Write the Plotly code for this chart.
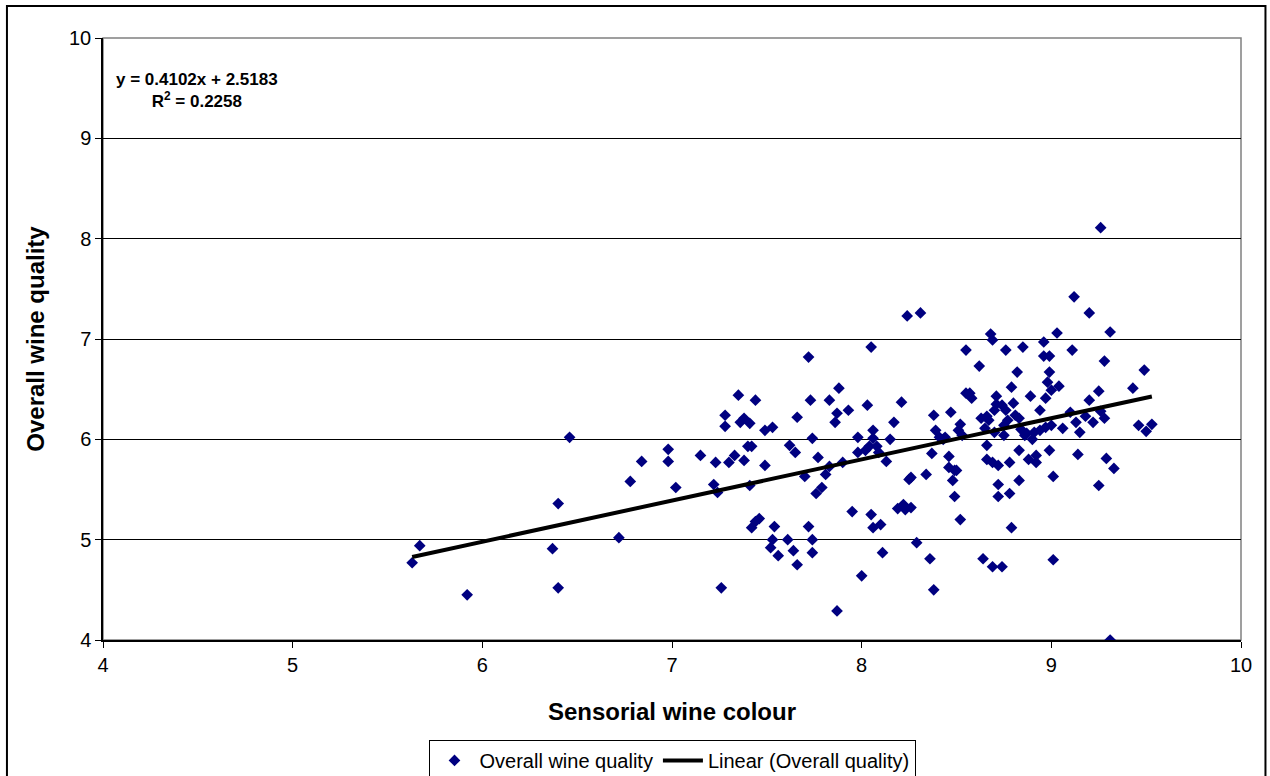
import plotly.graph_objects as go

colour = [5.63, 5.67, 5.92, 6.37, 6.40, 6.40, 6.46, 6.72, 6.78, 6.84, 6.98, 6.98, 7.02, 7.15, 7.22, 7.23,
          7.24, 7.26, 7.28, 7.28, 7.30, 7.33, 7.35, 7.36, 7.38, 7.38, 7.41, 7.41, 7.42, 7.42, 7.44, 7.46,
          7.49, 7.49, 7.44, 7.52, 7.53, 7.54, 7.56, 7.53, 7.40, 7.61, 7.64, 7.66, 7.62, 7.65, 7.66, 7.70,
          7.72, 7.72, 7.73, 7.74, 7.74, 7.74, 7.76, 7.77, 7.79, 7.81, 7.83, 7.83, 7.86, 7.87, 7.88, 7.87,
          7.90, 7.93, 7.95, 7.98, 8.00, 7.98, 8.03, 8.02, 8.04, 8.05, 8.06, 8.06, 8.05, 8.06, 8.08, 8.09,
          8.10, 8.11, 8.13, 8.15, 8.17, 8.19, 8.21, 8.22, 8.23, 8.24, 8.25, 8.26, 8.26, 8.29, 8.31, 8.34,
          8.36, 8.37, 8.38, 8.38, 8.39, 8.41, 8.43, 8.44, 8.46, 8.46, 8.47, 8.48, 8.49, 8.49, 8.50, 8.51,
          8.52, 8.53, 8.52, 8.55, 8.55, 8.57, 8.58, 8.62, 8.63, 8.64, 8.65, 8.66, 8.66, 8.66, 8.67, 8.68,
          8.69, 8.69, 8.70, 8.70, 8.71, 8.71, 8.69, 8.74, 8.72, 8.72, 8.72, 8.74, 8.75, 8.75, 8.76, 8.76,
          8.77, 8.78, 8.79, 8.78, 8.79, 8.80, 8.81, 8.82, 8.83, 8.83, 8.83, 8.84, 8.85, 8.86, 8.87, 8.88,
          8.89, 8.90, 8.91, 8.92, 8.92, 8.94, 8.94, 8.96, 8.96, 8.97, 8.97, 8.98, 8.99, 8.99, 8.99, 9.00,
          9.00, 9.01, 9.01, 9.03, 9.04, 9.06, 9.10, 9.11, 9.12, 9.13, 9.15, 9.14, 9.18, 9.20, 9.20, 9.22,
          9.26, 9.25, 9.25, 9.26, 9.28, 9.28, 9.29, 9.31, 9.31, 9.33, 9.43, 9.46, 9.49, 9.50, 9.53]
quality = [4.77, 4.94, 4.45, 4.91, 5.36, 4.52, 6.02, 5.02, 5.58, 5.78, 5.90, 5.78, 5.52, 5.84, 5.55, 5.77,
           5.47, 4.52, 6.24, 6.13, 5.77, 5.84, 6.44, 6.17, 6.21, 5.79, 6.16, 5.54, 5.93, 5.12, 6.39, 5.21,
           5.74, 6.09, 5.18, 4.92, 5.00, 5.13, 4.84, 6.12, 5.93, 5.00, 4.89, 4.75, 5.94, 5.87, 6.22, 5.63,
           6.82, 5.13, 6.39, 6.01, 5.00, 4.87, 5.46, 5.82, 5.52, 5.65, 5.73, 6.39, 6.17, 6.26, 6.51, 4.29,
           5.77, 6.29, 5.28, 6.02, 4.64, 5.87, 6.34, 5.89, 5.93, 6.92, 6.09, 6.01, 5.25, 5.12, 5.93, 5.87,
           5.15, 4.87, 5.78, 6.00, 6.17, 5.31, 6.37, 5.35, 5.30, 7.23, 5.60, 5.32, 5.62, 4.97, 7.26, 5.65,
           4.81, 5.86, 4.50, 6.24, 6.09, 6.02, 6.00, 6.02, 5.72, 5.83, 6.27, 5.59, 5.69, 5.43, 5.69, 6.09,
           6.15, 6.04, 5.20, 6.89, 6.46, 6.46, 6.41, 6.73, 6.21, 4.81, 6.11, 5.94, 5.80, 6.23, 6.19, 7.05,
           6.99, 5.77, 6.07, 6.29, 6.43, 6.35, 4.73, 4.73, 5.74, 5.43, 5.55, 6.34, 6.14, 6.04, 6.29, 6.89,
           6.19, 5.46, 5.12, 5.77, 6.52, 6.36, 6.24, 6.67, 5.89, 6.21, 5.59, 6.10, 6.92, 6.04, 6.06, 5.80,
           6.43, 6.00, 6.07, 5.84, 5.77, 6.29, 6.09, 6.97, 6.83, 6.41, 6.12, 6.57, 6.83, 6.67, 5.89, 6.49,
           6.14, 5.63, 4.80, 7.06, 6.53, 6.11, 6.27, 6.89, 7.42, 6.17, 6.07, 5.85, 6.23, 7.26, 6.39, 6.17,
           8.11, 5.54, 6.48, 6.28, 6.78, 6.21, 5.81, 7.07, 4.00, 5.71, 6.51, 6.14, 6.69, 6.08, 6.15]

slope = 0.4102
intercept = 2.5183
r_squared = 0.2258

x_ticks = [4, 5, 6, 7, 8, 9, 10]
y_ticks = [4, 5, 6, 7, 8, 9, 10]

x_fit = [min(colour), max(colour)]
y_fit = [slope * v + intercept for v in x_fit]

FONT = "Liberation Sans, Arial, sans-serif"

fig = go.Figure()
fig.add_trace(go.Scatter(
    x=colour, y=quality, mode="markers", name="Overall wine quality",
    marker=dict(symbol="diamond", size=9, color="#000080", line=dict(width=0)),
))
fig.add_trace(go.Scatter(
    x=x_fit, y=y_fit, mode="lines", name="Linear (Overall quality)",
    line=dict(color="black", width=4),
))

fig.update_layout(
    width=1270, height=776,
    margin=dict(l=103, r=29, t=38, b=136, autoexpand=False),
    paper_bgcolor="white", plot_bgcolor="white",
    font=dict(family=FONT, color="black", size=20),
    showlegend=True,
    legend=dict(
        orientation="h", x=0.5, xanchor="center", y=-0.166, yanchor="top",
        bordercolor="black", borderwidth=1, font=dict(size=20, family=FONT),
        itemwidth=40, tracegroupgap=0,
    ),
    xaxis=dict(
        range=[4, 10], tickvals=x_ticks, ticks="outside", ticklen=6, tickcolor="black",
        showgrid=False, zeroline=False, showline=True, linecolor="black", linewidth=1.5,
        tickfont=dict(size=20, family=FONT), automargin=False,
        title=dict(text="<b>Sensorial wine colour</b>", font=dict(size=24, family=FONT), standoff=28),
    ),
    yaxis=dict(
        range=[4, 10], tickvals=y_ticks, ticks="outside", ticklen=6, tickcolor="black",
        showgrid=True, gridcolor="black", gridwidth=1, zeroline=False,
        showline=True, linecolor="black", linewidth=1.5,
        tickfont=dict(size=20, family=FONT), automargin=False,
        title=dict(text="<b>Overall wine quality</b>", font=dict(size=24, family=FONT), standoff=18),
    ),
    shapes=[
        dict(type="rect", xref="paper", yref="paper", x0=0, x1=1, y0=0, y1=1,
             line=dict(color="#808080", width=1.5), layer="below"),
        dict(type="rect", xref="paper", yref="paper", x0=-0.0844, x1=1.0215, y0=-0.3, y1=1.053,
             line=dict(color="black", width=2)),
    ],
    annotations=[
        dict(xref="paper", yref="paper", x=0.0826, y=0.95, xanchor="center", yanchor="top",
             showarrow=False, align="center",
             text=f"<b>y = {slope:.4f}x + {intercept:.4f}</b><br><b>R<sup>2</sup> = {r_squared:.4f}</b>",
             font=dict(size=17, family=FONT, color="black")),
    ],
)

fig.write_html("out.html", config={"displayModeBar": False},
               post_script="document.body.style.margin='0';")
